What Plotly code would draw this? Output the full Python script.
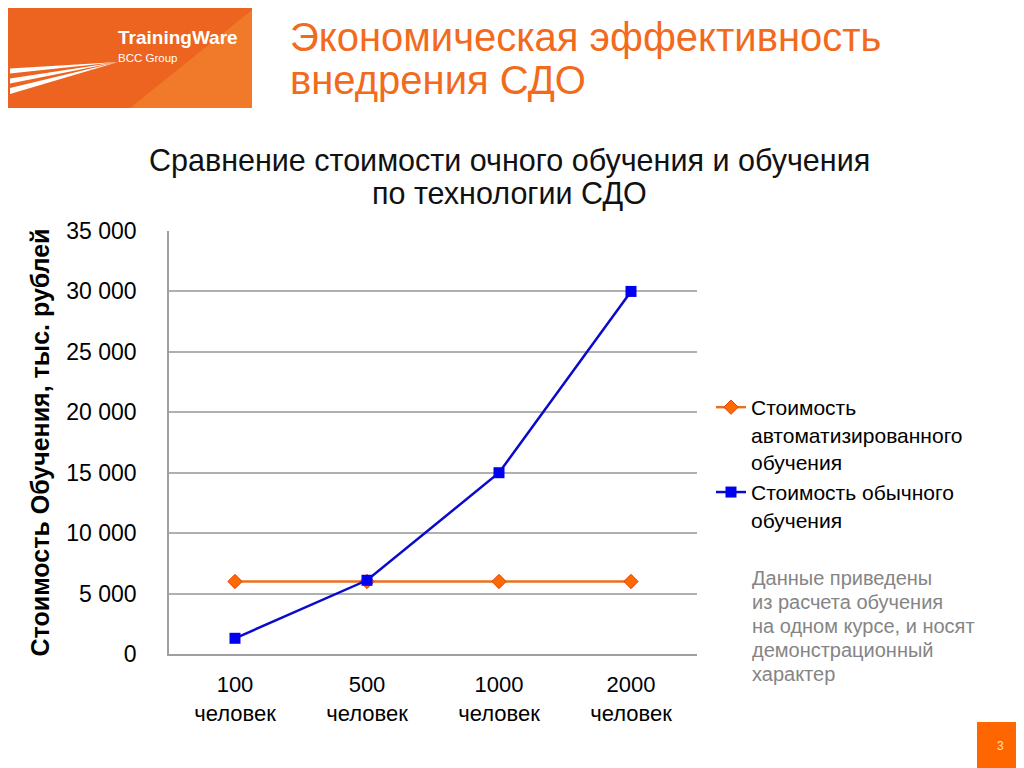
import plotly.graph_objects as go

# chart data
categories = ["100<br>человек", "500<br>человек", "1000<br>человек", "2000<br>человек"]
auto_cost = [6000, 6000, 6000, 6000]
usual_cost = [1300, 6100, 15000, 30000]
y_ticks = [0, 5000, 10000, 15000, 20000, 25000, 30000, 35000]
y_tick_text = ["0", "5 000", "10 000", "15 000", "20 000", "25 000", "30 000", "35 000"]
note_lines = ["Данные приведены", "из расчета обучения", "на одном курсе, и носят",
              "демонстрационный", "характер"]

ORANGE = "#F26B1D"
FONT = "Liberation Sans, Arial, sans-serif"


# page pixel -> paper coords (plot area spans 169..697 x 231..654 on the page)
def px_x(v):
    return (v - 169) / 528


def px_y(v):
    return (654 - v) / 423


fig = go.Figure()

fig.add_trace(go.Scatter(
    x=categories, y=auto_cost,
    mode="lines+markers",
    name="Стоимость<br>автоматизированного<br>обучения",
    line=dict(color="#E8701E", width=2.5),
    marker=dict(symbol="diamond", size=11, color="#FF6A00",
                line=dict(color="#E8400A", width=1)),
))
fig.add_trace(go.Scatter(
    x=categories, y=usual_cost,
    mode="lines+markers",
    name="Стоимость обычного<br>обучения",
    line=dict(color="#0A0ACC", width=2.5),
    marker=dict(symbol="square", size=11, color="#0000F0"),
))

# the page puts the figure 8px in from the top-left corner
fig.update_layout(
    width=1024, height=768,
    margin=dict(l=161, r=335, t=223, b=122),
    paper_bgcolor="white",
    plot_bgcolor="white",
    font=dict(family=FONT, color="black", size=22),
    showlegend=True,
    legend=dict(
        x=px_x(711), y=px_y(387), xanchor="left", yanchor="top",
        font=dict(size=21, color="black"),
        valign="top",
        tracegroupgap=2,
        itemwidth=30,
    ),
    xaxis=dict(
        range=[-0.5, 3.5],
        showgrid=False,
        showline=True, linecolor="#A0A0A0", linewidth=1.5,
        ticks="", tickfont=dict(size=22),
        ticklabelstandoff=10,
        fixedrange=True,
    ),
    yaxis=dict(
        range=[0, 35000],
        tickvals=y_ticks, ticktext=y_tick_text,
        showgrid=True, gridcolor="#B0B0B0", gridwidth=1.5,
        showline=True, linecolor="#A0A0A0", linewidth=1.5,
        zeroline=False,
        ticks="", tickfont=dict(size=23),
        ticklabelstandoff=26,
        title=dict(text="<b>Стоимость Обучения, тыс. рублей</b>",
                   font=dict(size=25), standoff=10),
    ),
)

# chart title
fig.add_annotation(
    text="Сравнение стоимости очного обучения и обучения",
    xref="paper", yref="paper", x=px_x(509), y=px_y(160),
    xanchor="center", yanchor="middle", showarrow=False,
    font=dict(size=30.5, color="#111111"),
)
fig.add_annotation(
    text="по технологии СДО",
    xref="paper", yref="paper", x=px_x(509), y=px_y(193),
    xanchor="center", yanchor="middle", showarrow=False,
    font=dict(size=30.5, color="#111111"),
)

# slide title
fig.add_annotation(
    text="Экономическая эффективность", xref="paper", yref="paper",
    x=px_x(288), y=px_y(37), xanchor="left", yanchor="middle",
    showarrow=False, font=dict(size=40, color=ORANGE),
)
fig.add_annotation(
    text="внедрения СДО", xref="paper", yref="paper",
    x=px_x(288), y=px_y(80), xanchor="left", yanchor="middle",
    showarrow=False, font=dict(size=40, color=ORANGE),
)

# side note, one annotation per line to keep the tight spacing
for i, line in enumerate(note_lines):
    fig.add_annotation(
        text=line, xref="paper", yref="paper", x=px_x(750), y=px_y(578 + 24 * i),
        xanchor="left", yanchor="middle", showarrow=False,
        font=dict(size=20, color="#858585"),
    )

# logo block
fig.add_shape(type="rect", xref="paper", yref="paper",
              x0=px_x(0), x1=px_x(252), y0=px_y(108), y1=px_y(0),
              fillcolor="#EC6420", line=dict(width=0), layer="below")
fig.add_shape(type="path", xref="paper", yref="paper", layer="below",
              path="M %f %f L %f %f L %f %f Z" % (
                  px_x(130), px_y(108), px_x(252), px_y(10),
                  px_x(252), px_y(108)),
              fillcolor="#F07A2A", line=dict(width=0))

for y_left, thick in [(71, 5), (81, 5), (91, 6)]:
    fig.add_shape(type="path", xref="paper", yref="paper",
                  path="M %f %f L %f %f L %f %f Z" % (
                      px_x(10), px_y(y_left - thick / 2),
                      px_x(118), px_y(62),
                      px_x(10), px_y(y_left + thick / 2)),
                  fillcolor="white", line=dict(width=0))

fig.add_annotation(text="<b>TrainingWare</b>", xref="paper", yref="paper",
                   x=px_x(116), y=px_y(37), xanchor="left", yanchor="middle",
                   showarrow=False, font=dict(size=19, color="white"))
fig.add_annotation(text="BCC Group", xref="paper", yref="paper",
                   x=px_x(116), y=px_y(58), xanchor="left", yanchor="middle",
                   showarrow=False, font=dict(size=11.5, color="white"))

# page number
fig.add_shape(type="rect", xref="paper", yref="paper",
              x0=px_x(977), x1=px_x(1024), y0=px_y(768), y1=px_y(722),
              fillcolor="#FF6600", line=dict(width=0))
fig.add_annotation(text="3", xref="paper", yref="paper",
                   x=px_x(1000), y=px_y(746), xanchor="center", yanchor="middle",
                   showarrow=False, font=dict(size=12, color="#FFE0C0"))

fig.write_html("out.html")
